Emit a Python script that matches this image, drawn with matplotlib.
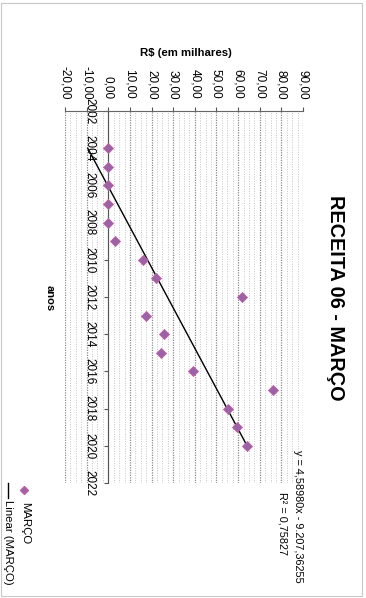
import matplotlib
matplotlib.use("Agg")
import matplotlib.pyplot as plt
import numpy as np
from matplotlib.lines import Line2D
from matplotlib.patches import Rectangle

anos = [2004, 2005, 2006, 2007, 2008, 2009, 2010, 2011, 2012,
        2013, 2014, 2015, 2016, 2017, 2018, 2019, 2020]
marco = [0.0, 0.0, 0.0, 0.0, 0.0, 3.0, 16.1, 21.9, 61.7,
         17.4, 25.7, 24.3, 39.3, 76.3, 55.2, 59.6, 64.0]

valor_ticks = [-20, -10, 0, 10, 20, 30, 40, 50, 60, 70, 80, 90]
ano_ticks = list(range(2002, 2023, 2))

plt.rcParams["font.family"] = ["Liberation Sans", "DejaVu Sans"]

W, H = 366, 598
fig = plt.figure(figsize=(W / 100, H / 100), dpi=100)

def fx(px):
    return px / W

def fy(py):
    return 1 - py / H

# plot area (chart is drawn rotated 90 deg clockwise, like the scan)
ax = fig.add_axes([fx(65), fy(483), fx(303) - fx(65), fy(111) - fy(483)])
ax.set_xlim(-20, 90)
ax.set_ylim(2022, 2002)

# grid
ax.set_xticks(valor_ticks)
ax.set_xticks(np.arange(-20, 90.1, 2.5), minor=True)
ax.grid(True, which="major", axis="x", color="#8a8a8a", linestyle=(0, (1, 1)), linewidth=0.9)
ax.grid(True, which="minor", axis="x", color="#c4c4c4", linestyle=(0, (1, 1.5)), linewidth=0.7)
ax.set_axisbelow(True)

# value axis on top
ax.xaxis.tick_top()
ax.set_xticklabels([f"{v:.2f}".replace(".", ",") for v in valor_ticks],
                   rotation=270, fontsize=8.5)
ax.tick_params(axis="x", which="major", direction="out", length=3, pad=5.5,
               color="#555555", top=True, bottom=False)
ax.tick_params(axis="x", which="minor", length=0, top=False, bottom=False)

# year axis crosses at value 0
ax.spines["left"].set_position(("data", 0))
ax.spines["left"].set_color("#555555")
ax.spines["top"].set_color("#666666")
ax.spines["right"].set_visible(False)
ax.spines["bottom"].set_visible(False)
ax.set_yticks(ano_ticks)
ax.set_yticklabels([str(a) for a in ano_ticks], rotation=270, fontsize=8.5, va="center")
ax.tick_params(axis="y", direction="out", length=3, pad=6, color="#555555")

# series + linear trend
ax.scatter(marco, anos, marker="D", s=26, color="#9b62a8", edgecolor="#c0609e",
           linewidth=0.6, zorder=3)
coef = np.polyfit(anos, marco, 1)
anos_arr = np.array([anos[0], anos[-1]])
ax.plot(np.polyval(coef, anos_arr), anos_arr, color="black", linewidth=1.0, zorder=2)

# texts
fig.text(fx(336), fy(298), "RECEITA 06 - MARÇO", rotation=270, fontsize=14.3,
         fontweight="bold", ha="center", va="center")
fig.text(fx(186), fy(53), "R$ (em milhares)", fontsize=8.2, fontweight="bold",
         ha="center", va="center")
fig.text(fx(50), fy(298), "anos", rotation=270, fontsize=8, fontweight="bold",
         ha="center", va="center")
fig.text(fx(298), fy(516), "y = 4,58980x - 9.207,36255", rotation=270, fontsize=7.8,
         ha="center", va="center")
fig.text(fx(282), fy(523), "R² = 0,75827", rotation=270, fontsize=7.8,
         ha="center", va="center")

# legend (manual, rotated)
fig.add_artist(Line2D([fx(24)], [fy(490)], marker="D", markersize=4.5,
                      color="#9b62a8", markeredgecolor="#c0609e", linestyle="none"))
fig.text(fx(25), fy(502), "MARÇO", rotation=270, fontsize=8.2, ha="center", va="top")
fig.add_artist(Line2D([fx(8), fx(8)], [fy(483), fy(498)], color="black", linewidth=1.0))
fig.text(fx(8), fy(500), "Linear (MARÇO)", rotation=270, fontsize=8.2, ha="center", va="top")

# chart area border
fig.add_artist(Rectangle((fx(1), fy(596)), fx(362) - fx(1), fy(3) - fy(596),
                         fill=False, edgecolor="#c8c8c8", linewidth=0.8))

fig.savefig("out.png", dpi=100)
